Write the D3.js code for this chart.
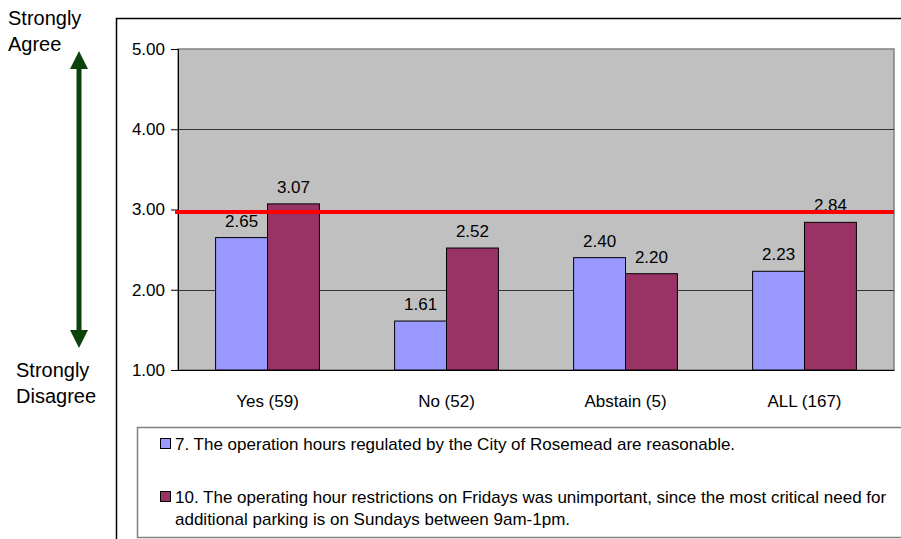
<!DOCTYPE html>
<html>
<head>
<meta charset="utf-8">
<script src="https://cdn.jsdelivr.net/npm/d3@7"></script>
<style>
  body { margin: 0; background: #fff; }
  svg { display: block; font-family: 'Liberation Sans', Arial, sans-serif; }
</style>
</head>
<body>
<div id="chart"></div>
<script>
/* Data */
const categories = ['Yes (59)', 'No (52)', 'Abstain (5)', 'ALL (167)'];
const q7 = [2.65, 1.61, 2.40, 2.23];
const q10 = [3.07, 2.52, 2.20, 2.84];
const seriesNames = [
  '7. The operation hours regulated by the City of Rosemead are reasonable.',
  '10. The operating hour restrictions on Fridays was unimportant, since the most critical need for|additional parking is on Sundays between 9am-1pm.',
];
const yTicks = [1, 2, 3, 4, 5];
const refValue = 2.97;

const colors = ['#9999ff', '#993366'];
const width = 901,
  height = 539;
const plot = { left: 178, right: 894, top: 49, bottom: 370 };
const fontSize = 17;

const svg = d3
  .select('#chart')
  .append('svg')
  .attr('width', width)
  .attr('height', height);

// outer frame
svg
  .append('path')
  .attr('d', `M116.5,${height + 2} V18.5 H${width + 2}`)
  .attr('fill', 'none')
  .attr('stroke', '#000')
  .attr('stroke-width', 1.5);

const x = d3
  .scaleBand()
  .domain(categories)
  .range([plot.left, plot.right])
  .paddingInner(0.42)
  .paddingOuter(0.21);

const y = d3.scaleLinear().domain([1, 5]).range([plot.bottom, plot.top]);

// plot background
svg
  .append('rect')
  .attr('x', plot.left)
  .attr('y', plot.top)
  .attr('width', plot.right - plot.left)
  .attr('height', plot.bottom - plot.top)
  .attr('fill', '#c0c0c0')
  .attr('stroke', '#808080')
  .attr('stroke-width', 1.5);

// gridlines
svg
  .append('g')
  .selectAll('line')
  .data(yTicks.slice(1, -1))
  .join('line')
  .attr('x1', plot.left)
  .attr('x2', plot.right)
  .attr('y1', (d) => Math.round(y(d)) + 0.5)
  .attr('y2', (d) => Math.round(y(d)) + 0.5)
  .attr('stroke', '#333');

// y axis
const yAxis = svg
  .append('g')
  .attr('transform', `translate(${plot.left},0)`)
  .call(
    d3
      .axisLeft(y)
      .tickValues(yTicks)
      .tickFormat(d3.format('.2f'))
      .tickSize(7)
      .tickPadding(6)
  );
yAxis.select('.domain').attr('stroke', '#000');
yAxis.selectAll('line').attr('stroke', '#000');
yAxis
  .selectAll('text')
  .attr('font-size', fontSize)
  .attr('fill', '#000')
  .style('font-family', 'Liberation Sans, Arial, sans-serif');

// bars
const sub = d3.scaleBand().domain([0, 1]).range([0, x.bandwidth()]);

const groups = svg
  .append('g')
  .selectAll('g')
  .data(categories)
  .join('g')
  .attr('transform', (d) => `translate(${x(d)},0)`);

[q7, q10].forEach((vals, s) => {
  groups
    .append('rect')
    .attr('x', sub(s))
    .attr('y', (d, i) => y(vals[i]))
    .attr('width', sub.bandwidth())
    .attr('height', (d, i) => y(1) - y(vals[i]))
    .attr('fill', colors[s])
    .attr('stroke', '#000')
    .attr('stroke-width', 1);

  groups
    .append('text')
    .attr('x', sub(s) + sub.bandwidth() / 2)
    .attr('y', (d, i) => y(vals[i]) - 11)
    .attr('text-anchor', 'middle')
    .attr('font-size', fontSize)
    .text((d, i) => d3.format('.2f')(vals[i]));
});

// x axis
const xAxis = svg
  .append('g')
  .attr('transform', `translate(0,${plot.bottom})`)
  .call(d3.axisBottom(x).tickSize(0).tickPadding(25));
xAxis.select('.domain').attr('stroke', '#000').attr('stroke-width', 1.2);
xAxis
  .selectAll('text')
  .attr('font-size', fontSize)
  .attr('fill', '#000')
  .style('font-family', 'Liberation Sans, Arial, sans-serif');

// reference line
svg
  .append('line')
  .attr('x1', plot.left - 3)
  .attr('x2', plot.right)
  .attr('y1', y(refValue))
  .attr('y2', y(refValue))
  .attr('stroke', '#ff0000')
  .attr('stroke-width', 4);

// arrow
const defs = svg.append('defs');
defs
  .append('marker')
  .attr('id', 'arrow')
  .attr('viewBox', '0 0 10 10')
  .attr('refX', 5)
  .attr('refY', 5)
  .attr('markerUnits', 'userSpaceOnUse')
  .attr('markerWidth', 18)
  .attr('markerHeight', 18)
  .attr('orient', 'auto-start-reverse')
  .append('path')
  .attr('d', 'M0,0 L10,5 L0,10 Z')
  .attr('fill', '#0b430b');
svg
  .append('line')
  .attr('x1', 79)
  .attr('x2', 79)
  .attr('y1', 60)
  .attr('y2', 339)
  .attr('stroke', '#0b430b')
  .attr('stroke-width', 5)
  .attr('marker-start', 'url(#arrow)')
  .attr('marker-end', 'url(#arrow)');

const sideLabels = [
  { lines: ['Strongly', 'Agree'], x: 8, y: 25 },
  { lines: ['Strongly', 'Disagree'], x: 16, y: 377 },
];
sideLabels.forEach((l) => {
  const t = svg
    .append('text')
    .attr('x', l.x)
    .attr('y', l.y)
    .attr('font-size', 20);
  l.lines.forEach((line, i) => {
    t.append('tspan')
      .attr('x', l.x)
      .attr('dy', i === 0 ? 0 : 26)
      .text(line);
  });
});

// legend
svg
  .append('rect')
  .attr('x', 137.5)
  .attr('y', 427.5)
  .attr('width', 800)
  .attr('height', 110)
  .attr('fill', '#fff')
  .attr('stroke', '#808080')
  .attr('stroke-width', 1.5);

const legendY = [444, 497];
seriesNames.forEach((name, i) => {
  svg
    .append('rect')
    .attr('x', 160.5)
    .attr('y', legendY[i] - 5.5)
    .attr('width', 10)
    .attr('height', 10)
    .attr('fill', colors[i])
    .attr('stroke', '#000');
  const t = svg
    .append('text')
    .attr('x', 175)
    .attr('y', legendY[i] + 6)
    .attr('font-size', fontSize);
  name.split('|').forEach((line, j) => {
    t.append('tspan')
      .attr('x', 175)
      .attr('dy', j === 0 ? 0 : 22)
      .text(line);
  });
});
</script>
</body>
</html>
